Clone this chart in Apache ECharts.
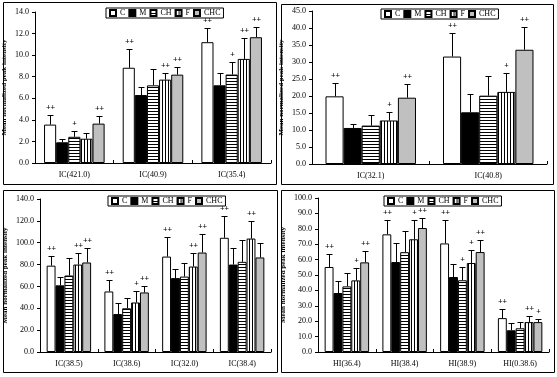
<!DOCTYPE html>
<html>
<head>
<meta charset="utf-8">
<script src="https://cdn.jsdelivr.net/npm/echarts@6/dist/echarts.min.js"></script>
<style>
  html, body { margin: 0; padding: 0; background: #fff; }
  #main { width: 557px; height: 377px; }
</style>
</head>
<body>
<div id="main"></div>
<script>
// groups
var groupNames = ['C', 'M', 'CH', 'F', 'CHC'];

// top left
var p1Cats = ['IC(421.0)', 'IC(40.9)', 'IC(35.4)'];
var p1Mean = [[3.56, 8.83, 11.2], [1.92, 6.3, 7.2], [2.43, 7.2, 8.2], [2.25, 7.73, 9.65], [3.65, 8.19, 11.66]];
var p1Top  = [[4.47, 10.56, 12.48], [2.22, 7.09, 8.3], [2.98, 8.67, 9.37], [2.8, 8.37, 11.56], [4.35, 8.92, 12.63]];
var p1Sig  = [['++', '++', '++'], ['', '', ''], ['+', '', '+'], ['', '++', '++'], ['++', '++', '++']];

// top right
var p2Cats = ['IC(32.1)', 'IC(40.8)'];
var p2Mean = [[19.9, 31.6], [10.6, 15.2], [11.3, 20.1], [12.8, 21.2], [19.5, 33.6]];
var p2Top  = [[23.7, 38.4], [11.9, 20.7], [14.3, 26.0], [15.2, 26.8], [23.4, 40.4]];
var p2Sig  = [['++', '++'], ['', ''], ['', ''], ['+', '+'], ['++', '++']];

// bottom left
var p3Cats = ['IC(38.5)', 'IC(38.6)', 'IC(32.0)', 'IC(38.4)'];
var p3Mean = [[79, 55.4, 87.3, 104.5], [61, 34.7, 67.6, 80], [70, 40, 69, 82.5], [80, 45.3, 78.2, 103.8], [81.9, 54.5, 91, 86.5]];
var p3Top  = [[88.3, 65.5, 104.8, 124.8], [68.5, 44.7, 75.8, 95.6], [85.8, 49.3, 81.3, 102.9], [90.4, 55.4, 90.4, 120.2], [95, 60, 108.3, 100.1]];
var p3Sig  = [['++', '++', '++', '++'], ['', '', '', ''], ['', '', '', ''], ['++', '+', '++', '++'], ['++', '++', '++', '']];

// bottom right
var p4Cats = ['HI(36.4)', 'HI(38.4)', 'HI(38.9)', 'HI(0.38.6)'];
var p4Mean = [[55.2, 76.4, 70.5, 22], [38.3, 58.4, 48.7, 14.1], [42.6, 64.8, 46.6, 15.4], [46.5, 73.2, 57.8, 19.4], [58.2, 80.5, 64.9, 19.4]];
var p4Top  = [[63.4, 85.5, 85.5, 27.9], [45.9, 70.7, 57.4, 18.6], [51, 78.4, 55.2, 19.3], [54.8, 85.5, 66, 23.2], [65.4, 86.7, 72.6, 21.2]];
var p4Sig  = [['++', '++', '++', '++'], ['', '', '', ''], ['', '', '+', ''], ['+', '+', '+', '++'], ['++', '++', '++', '+']];

// y axis scales
var yMax  = [14, 45, 140, 100];
var yStep = [2, 5, 20, 10];

var FONT = 'Liberation Serif';
var GAP = 0.23;

// hatch fills
function stripes(horiz) {
	var c = document.createElement('canvas');
	c.width = 3; c.height = 3;
	var g = c.getContext('2d');
	g.fillStyle = '#fff';
	g.fillRect(0, 0, 3, 3);
	g.fillStyle = '#000';
	if (horiz) g.fillRect(0, 0, 3, 1);
	else g.fillRect(0, 0, 1, 3);
	return c;
}
var fills = ['#ffffff', '#000000',
	{image: stripes(true), repeat: 'repeat'},
	{image: stripes(false), repeat: 'repeat'},
	'#c0c0c0'];

var panels = [
	{cats: p1Cats, mean: p1Mean, top: p1Top, sig: p1Sig, grid: {left: 35, top: 12, right: 286, bottom: 214}, nameGap: 27, legend: {left: 106, top: 8}},
	{cats: p2Cats, mean: p2Mean, top: p2Top, sig: p2Sig, grid: {left: 312, top: 11, right: 10, bottom: 213}, nameGap: 27, legend: {left: 381, top: 9}},
	{cats: p3Cats, mean: p3Mean, top: p3Top, sig: p3Sig, grid: {left: 40, top: 199, right: 286, bottom: 25}, nameGap: 31, legend: {left: 108, top: 196}},
	{cats: p4Cats, mean: p4Mean, top: p4Top, sig: p4Sig, grid: {left: 318, top: 198, right: 8, bottom: 25}, nameGap: 31, legend: {left: 384, top: 196}}
];

var grids = [], xAxes = [], yAxes = [], legends = [], series = [];

panels.forEach(function (p, pi) {
	grids.push(p.grid);
	xAxes.push({
		type: 'category', gridIndex: pi, data: p.cats,
		axisLine: {lineStyle: {color: '#000', width: 1}},
		axisTick: {show: true, inside: true, length: 3, lineStyle: {color: '#000'}},
		axisLabel: {color: '#000', fontFamily: FONT, fontSize: 8, margin: 8}
	});
	yAxes.push({
		type: 'value', gridIndex: pi, min: 0, max: yMax[pi], interval: yStep[pi],
		name: 'Mean normalized peak intensity', nameLocation: 'middle', nameGap: p.nameGap,
		nameTextStyle: {color: '#000', fontFamily: FONT, fontSize: 7, fontWeight: 'bold'},
		axisLine: {show: true, lineStyle: {color: '#000', width: 1}},
		axisTick: {show: true, length: 3, lineStyle: {color: '#000'}},
		splitLine: {show: false},
		axisLabel: {color: '#000', fontFamily: FONT, fontSize: 8, margin: 6,
			formatter: function (v) { return v.toFixed(1); }}
	});
	legends.push({
		left: p.legend.left, top: p.legend.top, orient: 'horizontal',
		data: groupNames, icon: 'rect', itemWidth: 6, itemHeight: 6, itemGap: 3,
		padding: [1, 3], borderColor: '#000', borderWidth: 1,
		textStyle: {color: '#000', fontFamily: FONT, fontSize: 8, padding: [0, 0, 0, -1]},
		selectedMode: false
	});

	groupNames.forEach(function (gn, gi) {
		series.push({
			name: gn, type: 'bar', xAxisIndex: pi, yAxisIndex: pi,
			data: p.mean[gi],
			barGap: '0%', barCategoryGap: (GAP * 100) + '%',
			itemStyle: {color: fills[gi], borderColor: '#000', borderWidth: 1},
			emphasis: {disabled: true},
			animation: false
		});
	});

	// error bars + significance marks
	var errData = [];
	for (var gi = 0; gi < groupNames.length; gi++) {
		for (var ci = 0; ci < p.cats.length; ci++) {
			errData.push([ci, p.mean[gi][ci], p.top[gi][ci], gi]);
		}
	}
	series.push({
		type: 'custom', xAxisIndex: pi, yAxisIndex: pi, z: 5,
		data: errData,
		animation: false,
		renderItem: function (params, api) {
			var ci = api.value(0), gi = api.value(3);
			var base = api.coord([ci, api.value(1)]);
			var tip = api.coord([ci, api.value(2)]);
			var band = api.size([1, 0])[0];
			var bw = band * (1 - GAP) / 5;
			var x = Math.round(base[0] - band * (1 - GAP) / 2 + (gi + 0.5) * bw) + 0.5;
			var yt = Math.round(tip[1]) + 0.5;
			var s = {stroke: '#000', lineWidth: 1};
			var kids = [
				{type: 'line', shape: {x1: x, y1: base[1], x2: x, y2: yt}, style: s},
				{type: 'line', shape: {x1: x - 3, y1: yt, x2: x + 3, y2: yt}, style: s}
			];
			var mark = p.sig[gi][ci];
			if (mark) {
				kids.push({type: 'text', x: x, y: yt - 4,
					style: {text: mark, fill: '#000', font: 'bold 8px "' + FONT + '"', align: 'center', verticalAlign: 'bottom'}});
			}
			return {type: 'group', children: kids};
		}
	});
});

// panel frames
var frames = [[3, 2, 273, 182], [281, 4, 272, 180], [3, 190, 274, 182], [281, 190, 273, 182]];
var graphics = frames.map(function (f) {
	return {type: 'rect', shape: {x: f[0] + 0.5, y: f[1] + 0.5, width: f[2], height: f[3]},
		style: {fill: null, stroke: '#000', lineWidth: 1}, silent: true};
});

var myChart = echarts.init(document.getElementById('main'));
myChart.setOption({
	backgroundColor: '#fff',
	animation: false,
	grid: grids,
	xAxis: xAxes,
	yAxis: yAxes,
	legend: legends,
	graphic: graphics,
	series: series
});
</script>
</body>
</html>
